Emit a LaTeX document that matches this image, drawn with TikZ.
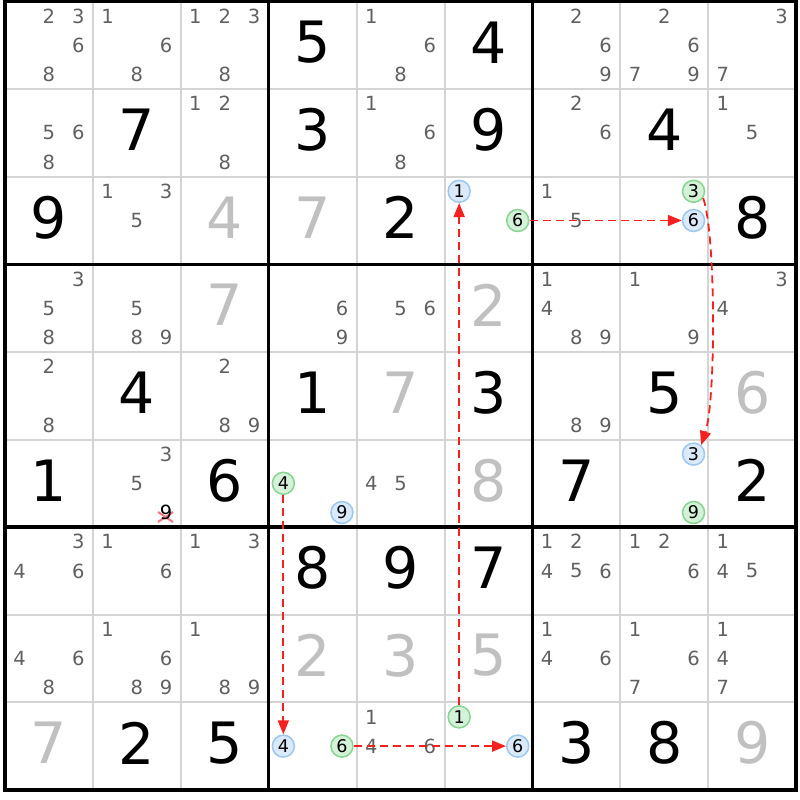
\documentclass[tikz,border=0pt]{standalone}
\usepackage{fontspec}
\setmainfont{DejaVu Sans}
\usetikzlibrary{arrows.meta}
\definecolor{candgray}{HTML}{606060}
\definecolor{solvgray}{HTML}{C0C0C0}
\definecolor{gridgray}{HTML}{D4D4D4}
\definecolor{bluefill}{HTML}{DAEAFA}
\definecolor{blueline}{HTML}{9CC8F0}
\definecolor{greenfill}{HTML}{D4F2D8}
\definecolor{greenline}{HTML}{88D490}
\definecolor{arrred}{HTML}{F52020}
\definecolor{xpink}{HTML}{F07880}
\begin{document}
\begin{tikzpicture}[x=1pt,y=-1pt,
  given/.style={font=\fontsize{57}{57}\selectfont, text=black, inner sep=0pt},
  solved/.style={given, text=solvgray},
  cand/.style={font=\fontsize{19.5}{19.5}\selectfont, text=candgray, inner sep=0pt},
  bluec/.style={circle, draw=blueline, fill=bluefill, line width=1.5pt, minimum size=22pt, inner sep=0pt, font=\fontsize{17.5}{17.5}\selectfont, text=black},
  greenc/.style={bluec, draw=greenline, fill=greenfill},
  thinline/.style={draw=gridgray, line width=2pt},
  thickline/.style={draw=black, line width=3.3pt},
  arr/.style={draw=arrred, line width=1.8pt, dash pattern=on 8pt off 5pt, -{Triangle[length=14pt,width=11pt]}},
  ]
\fill[white] (0,0) rectangle (800,800);
\useasboundingbox (0,0) rectangle (800,800);
% grid
\foreach \i in {1,2,4,5,7,8} {
  \draw[thinline] ({5+\i*87.9},1.5) -- ({5+\i*87.9},789.9);
  \draw[thinline] (5,{1.5+\i*87.6}) -- (796.1,{1.5+\i*87.6});
}
\foreach \i in {3,6} {
  \draw[thickline] ({5+\i*87.9},1.5) -- ({5+\i*87.9},789.9);
  \draw[thickline] (5,{1.5+\i*87.6}) -- (796.1,{1.5+\i*87.6});
}
\draw[thickline] (5,1.5) rectangle (796.1,789.9);
% given digits
\foreach \r/\c/\d in {1/4/5,1/6/4,2/2/7,2/4/3,2/6/9,2/8/4,3/1/9,3/5/2,3/9/8,5/2/4,5/4/1,5/6/3,5/8/5,6/1/1,6/3/6,6/7/7,6/9/2,7/4/8,7/5/9,7/6/7,9/2/2,9/3/5,9/7/3,9/8/8}
  \node[given] (g-\r-\c) at ({5+(\c-0.5)*87.9},{1.5+(\r-0.5)*87.6-3}) {\d};
% solved digits
\foreach \r/\c/\d in {3/3/4,3/4/7,4/3/7,4/6/2,5/5/7,5/9/6,6/6/8,8/4/2,8/5/3,8/6/5,9/1/7,9/9/9}
  \node[solved] (g-\r-\c) at ({5+(\c-0.5)*87.9},{1.5+(\r-0.5)*87.6-3}) {\d};
% candidates
\foreach \r/\c/\ds in {1/1/{2,3,6,8},1/2/{1,6,8},1/3/{1,2,3,8},1/5/{1,6,8},1/7/{2,6,9},1/8/{2,6,7,9},1/9/{3,7},
  2/1/{5,6,8},2/3/{1,2,8},2/5/{1,6,8},2/7/{2,6},2/9/{1,5},
  3/2/{1,3,5},3/7/{1,5},
  4/1/{3,5,8},4/2/{5,8,9},4/4/{6,9},4/5/{5,6},4/7/{1,4,8,9},4/8/{1,9},4/9/{3,4},
  5/1/{2,8},5/3/{2,8,9},5/7/{8,9},
  6/2/{3,5},6/5/{4,5},
  7/1/{3,4,6},7/2/{1,6},7/3/{1,3},7/7/{1,2,4,5,6},7/8/{1,2,6},7/9/{1,4,5},
  8/1/{4,6,8},8/2/{1,6,8,9},8/3/{1,8,9},8/7/{1,4,6},8/8/{1,6,7},8/9/{1,4,7},
  9/5/{1,4,6}} {
  \foreach \d in \ds {
    \pgfmathtruncatemacro\cc{mod(\d-1,3)}
    \pgfmathtruncatemacro\rr{floor((\d-1)/3)}
    \node[cand] (n-\r-\c-\d) at ({5+(\c-1)*87.9+(\cc+0.5)*29.3},{1.5+(\r-1)*87.6+(\rr+0.5)*29.2}) {\d};
  }
}
% eliminated candidate
\draw[xpink, line width=2pt] (158,512) -- (173,522) (158,522) -- (173,512);
\node[cand, text=black] (n-6-2-9) at ({5+87.9+2.5*29.3},{1.5+5*87.6+2.5*29.2}) {9};
% circled candidates
\foreach \r/\c/\d in {3/6/1,3/8/6,6/4/9,6/8/3,9/4/4,9/6/6} {
  \pgfmathtruncatemacro\cc{mod(\d-1,3)}
  \pgfmathtruncatemacro\rr{floor((\d-1)/3)}
  \node[bluec] (n-\r-\c-\d) at ({5+(\c-1)*87.9+(\cc+0.5)*29.3},{1.5+(\r-1)*87.6+(\rr+0.5)*29.2}) {\d};
}
\foreach \r/\c/\d in {3/6/6,3/8/3,6/4/4,6/8/9,9/4/6,9/6/1} {
  \pgfmathtruncatemacro\cc{mod(\d-1,3)}
  \pgfmathtruncatemacro\rr{floor((\d-1)/3)}
  \node[greenc] (n-\r-\c-\d) at ({5+(\c-1)*87.9+(\cc+0.5)*29.3},{1.5+(\r-1)*87.6+(\rr+0.5)*29.2}) {\d};
}
% chain arrows
\draw[arr] (n-3-6-6) -- (n-3-8-6);
\draw[arr] (n-3-8-3.-35) .. controls (716,235) and (716,400) .. (n-6-8-3.50);
\draw[arr] (n-9-6-1) -- (n-3-6-1);
\draw[arr] (n-6-4-4) -- (n-9-4-4);
\draw[arr] (n-9-4-6) -- (n-9-6-6);
\end{tikzpicture}
\end{document}
